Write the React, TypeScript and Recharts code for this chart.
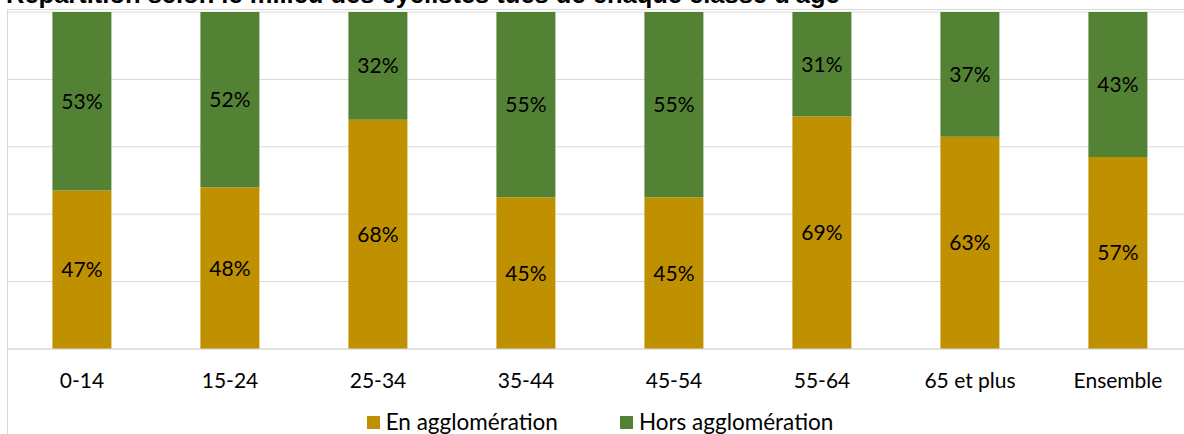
import React from "react";
import {
  BarChart,
  Bar,
  XAxis,
  YAxis,
  CartesianGrid,
  Legend,
  LabelList
} from "recharts";

// Répartition des cyclistes tués par classe d'âge, en %
const ageGroups = [
  "0-14",
  "15-24",
  "25-34",
  "35-44",
  "45-54",
  "55-64",
  "65 et plus",
  "Ensemble"
];
const enAgglo = [47, 48, 68, 45, 45, 69, 63, 57];
const horsAgglo = [53, 52, 32, 55, 55, 31, 37, 43];
const yTicks = [0, 20, 40, 60, 80, 100];

const data = ageGroups.map((age, i) => ({
  age,
  en: enAgglo[i],
  hors: horsAgglo[i]
}));

const GOLD = "#BF9000";
const GREEN = "#548235";
const GRID = "#D9D9D9";
const FONT = "Lato, 'Open Sans', sans-serif";
const FS = 21;

const pct = (v: any) => `${v}%`;

function LegendItems({ payload }: any) {
  return (
    <div
      style={{
        display: "flex",
        justifyContent: "center",
        gap: 62,
        fontFamily: FONT,
        fontSize: 22.5,
        color: "#000",
        lineHeight: "24px"
      }}
    >
      {(payload || []).map((p: any) => (
        <span key={p.value} style={{ display: "flex", alignItems: "center" }}>
          <span
            style={{
              width: 13,
              height: 13,
              background: p.color,
              marginRight: 6,
              display: "inline-block"
            }}
          />
          {p.value}
        </span>
      ))}
    </div>
  );
}

export default function App() {
  return (
    <div
      style={{
        position: "absolute",
        left: 0,
        top: 0,
        width: 1184,
        height: 434,
        overflow: "hidden",
        background: "#fff"
      }}
    >
      <div
        style={{
          position: "absolute",
          left: 6,
          top: -18,
          fontFamily: "'Liberation Sans', Arial, sans-serif",
          fontWeight: "bold",
          fontSize: 25.5,
          lineHeight: "25px",
          whiteSpace: "nowrap",
          color: "#000"
        }}
      >
        Répartition selon le milieu des cyclistes tués de chaque classe d'âge
      </div>
      <div
        style={{
          position: "absolute",
          left: 7,
          top: 9,
          width: 1300,
          height: 500,
          borderLeft: `1px solid ${GRID}`,
          borderTop: `1px solid ${GRID}`
        }}
      />
      <div style={{ position: "absolute", left: 0, top: 0 }}>
        <BarChart
          width={1200}
          height={434}
          data={data}
          margin={{ top: 12, right: 8, bottom: 0, left: 8 }}
          barCategoryGap="30%"
        >
          <CartesianGrid vertical={false} stroke={GRID} />
          <XAxis
            dataKey="age"
            axisLine={{ stroke: GRID }}
            tickLine={false}
            tickMargin={18}
            height={61}
            tick={{ fill: "#000", fontSize: FS, fontFamily: FONT }}
          />
          <YAxis hide domain={[0, 100]} ticks={yTicks} />
          <Legend verticalAlign="bottom" content={<LegendItems />} />
          <Bar
            dataKey="en"
            name="En agglomération"
            stackId="a"
            fill={GOLD}
            isAnimationActive={false}
          >
            <LabelList
              dataKey="en"
              position="center"
              formatter={pct}
              fill="#000"
              fontSize={FS}
              fontFamily={FONT}
            />
          </Bar>
          <Bar
            dataKey="hors"
            name="Hors agglomération"
            stackId="a"
            fill={GREEN}
            isAnimationActive={false}
          >
            <LabelList
              dataKey="hors"
              position="center"
              formatter={pct}
              fill="#000"
              fontSize={FS}
              fontFamily={FONT}
            />
          </Bar>
        </BarChart>
      </div>
    </div>
  );
}
